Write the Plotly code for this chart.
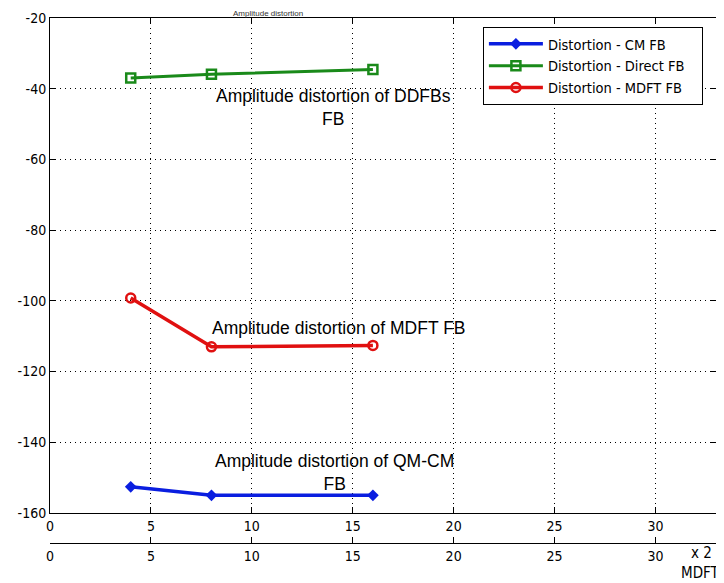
import plotly.graph_objects as go

x_vals = [4, 8, 16]
cm_fb = [-152.6, -155.0, -155.0]
direct_fb = [-37.0, -35.9, -34.6]
mdft_fb = [-99.2, -113.0, -112.6]

series_names = ["Distortion - CM FB", "Distortion - Direct FB", "Distortion - MDFT FB"]
x_ticks = [0, 5, 10, 15, 20, 25, 30]
y_ticks = [-20, -40, -60, -80, -100, -120, -140, -160]
y_labels = ["-20", "-40", "-60", "-80", "-100", "-120", "-140", "-160"]

narrow = "DejaVu Sans Condensed, Liberation Sans Narrow, Liberation Sans, Arial"
tick_font = dict(family=narrow, size=14, color="black")
grid_dash = "1px,4px"

fig = go.Figure()
fig.add_trace(go.Scatter(x=x_vals, y=cm_fb, name=series_names[0] + "\u00a0\u00a0\u00a0", mode="lines+markers",
                         line=dict(color="#0a1ee0", width=3.5),
                         marker=dict(symbol="diamond", size=9, color="#0a1ee0")))
fig.add_trace(go.Scatter(x=x_vals, y=direct_fb, name=series_names[1] + "\u00a0\u00a0\u00a0", mode="lines+markers",
                         line=dict(color="#1a8a1a", width=3),
                         marker=dict(symbol="square-open", size=9, color="#1a8a1a", line=dict(width=2.5))))
fig.add_trace(go.Scatter(x=x_vals, y=mdft_fb, name=series_names[2] + "\u00a0\u00a0\u00a0", mode="lines+markers",
                         line=dict(color="#e01010", width=3.5),
                         marker=dict(symbol="circle-open", size=9, color="#e01010", line=dict(width=2.5))))
# invisible trace for second x axis
fig.add_trace(go.Scatter(x=[0, 33], y=[-160, -160], xaxis="x2", mode="markers",
                         marker=dict(opacity=0), showlegend=False, hoverinfo="skip"))

# page body has an 8px default margin, so the figure is 8px smaller than the window
fig.update_layout(
    width=716, height=575,
    margin=dict(l=42, r=8, t=10, b=40, autoexpand=False),
    paper_bgcolor="white", plot_bgcolor="white",
    showlegend=True,
    legend=dict(x=0.650, y=0.983, xanchor="left", yanchor="top",
                bgcolor="white", bordercolor="black", borderwidth=1,
                font=dict(family=narrow, size=14.5, color="black"),
                tracegroupgap=0, itemwidth=54),
    xaxis=dict(range=[0, 33], tickvals=x_ticks, ticks="inside", ticklen=6, tickcolor="black",
               showline=True, linecolor="black", linewidth=1, mirror="ticks",
               showgrid=True, gridcolor="black", griddash=grid_dash, gridwidth=1,
               zeroline=False, tickfont=tick_font, anchor="y", automargin=False),
    yaxis=dict(range=[-160, -20], tickvals=y_ticks, ticktext=y_labels, ticks="inside", ticklen=6,
               tickcolor="black",
               showline=True, linecolor="black", linewidth=1, mirror="ticks",
               showgrid=True, gridcolor="black", griddash=grid_dash, gridwidth=1,
               zeroline=False, tickfont=tick_font, domain=[30/525, 1], automargin=False),
    xaxis2=dict(range=[0, 33], tickvals=x_ticks + [33], ticktext=[str(t) for t in x_ticks] + [""],
                ticks="inside", ticklen=6, tickcolor="black",
                showline=True, linecolor="black", linewidth=1, showgrid=False, zeroline=False,
                tickfont=tick_font, anchor="free", position=0, overlaying="x", side="bottom",
                automargin=False),
)

text_font = dict(family="Liberation Sans, Arial, Helvetica", size=17.5, color="black")
fig.add_annotation(x=14.07, y=-45.2, text="Amplitude distortion of DDFBs<br>FB", showarrow=False,
                   font=text_font, yanchor="middle", xanchor="center", align="center")
fig.add_annotation(x=14.3, y=-107.7, text="Amplitude distortion of MDFT FB", showarrow=False,
                   font=text_font, yanchor="middle", xanchor="center", align="center")
fig.add_annotation(x=14.1, y=-148.5, text="Amplitude distortion of QM-CM<br>FB", showarrow=False,
                   font=text_font, yanchor="middle", xanchor="center", align="center")
fig.add_annotation(xref="paper", yref="paper", x=0.978, y=-0.019, text="x 2", showarrow=False,
                   font=dict(family=narrow, size=15, color="black"),
                   xanchor="center", yanchor="middle")
fig.add_annotation(xref="paper", yref="paper", x=0.976, y=-0.057, text="MDFT", showarrow=False,
                   font=dict(family=narrow, size=15, color="black"),
                   xanchor="center", yanchor="middle")
fig.add_annotation(xref="paper", yref="paper", x=0.327, y=1.0, yshift=-2, text="Amplitude distortion",
                   showarrow=False, font=dict(family="Liberation Sans, Arial", size=8, color="#333"),
                   xanchor="center", yanchor="bottom")

fig.write_html("out.html")
